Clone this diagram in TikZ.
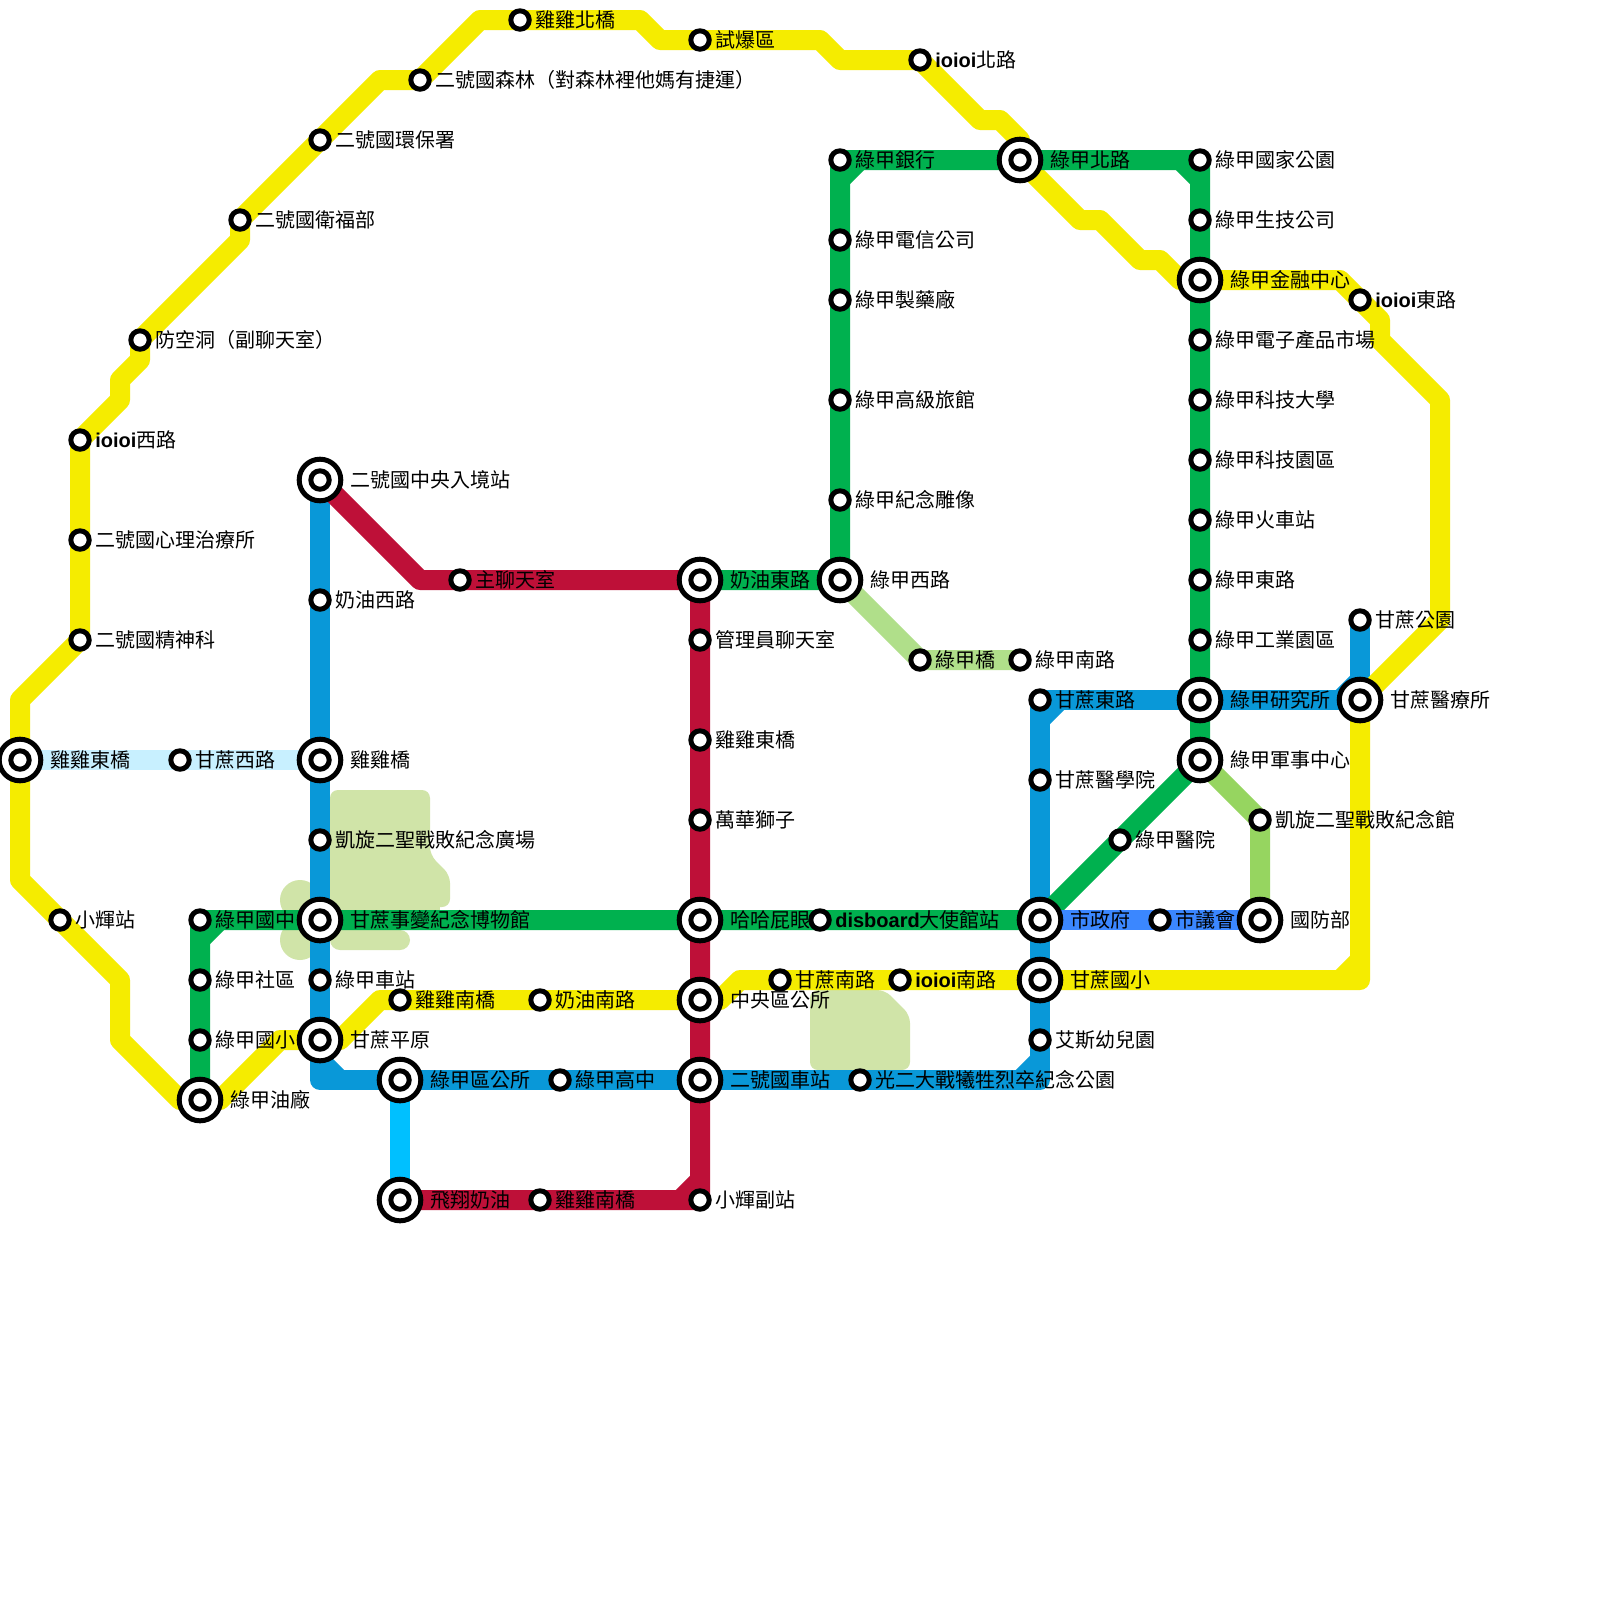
\documentclass[tikz,border=0pt]{standalone}
\usepackage{fontspec}
\setmainfont{Noto Sans CJK TC}
\newfontfamily\latb{Liberation Sans}
\newcommand{\ioi}{{\latb\bfseries ioioi}}
\pgfdeclarelayer{parks}
\pgfdeclarelayer{lines}
\pgfsetlayers{parks,lines,main}
\definecolor{cYel}{HTML}{F5EC00}
\definecolor{cBlu}{HTML}{0998D8}
\definecolor{cGrn}{HTML}{00B14F}
\definecolor{cRed}{HTML}{BE1038}
\definecolor{cCya}{HTML}{00C0FF}
\definecolor{cPal}{HTML}{C8F0FF}
\definecolor{cLgr}{HTML}{B0DF8A}
\definecolor{cMgr}{HTML}{96D560}
\definecolor{cBl2}{HTML}{3B87FF}
\definecolor{cPrk}{HTML}{D0E4A8}
\tikzset{
  x=0.5cm,y=-0.5cm,
  stn/.style={circle,draw=black,fill=white,line width=0.125cm,minimum size=0.46cm,inner sep=0pt},
  hubn/.style={circle,draw=black,fill=white,line width=0.125cm,minimum size=1.04cm,inner sep=0pt,
    path picture={\draw[black,line width=0.125cm,fill=white] (path picture bounding box.center) circle (0.23cm);}},
  lab/.style={anchor=west,inner sep=0pt,font=\fontsize{14.23}{17}\selectfont,text=black},
  mline/.style={line width=0.5cm,line join=round,line cap=round},
  chamfer/.style={line width=0.5cm,line cap=butt},
  park/.style={fill=cPrk,rounded corners=0.2cm}
}
\newcommand{\Stn}[4]{\node[stn] (#1) at (#2,#3) {}; \node[lab] (#1-t) at (#2+0.75,#3) {#4};}
\newcommand{\Hbn}[4]{\node[hubn] (#1) at (#2,#3) {}; \node[lab] (#1-t) at (#2+1.5,#3) {#4};}
\begin{document}
\begin{tikzpicture}
\useasboundingbox (0,0) rectangle (80,80);
% interchange stations
\Hbn{dq}{1}{38}{雞雞東橋}
\Hbn{rj}{16}{24}{二號國中央入境站}
\Hbn{jq}{16}{38}{雞雞橋}
\Hbn{sb}{16}{46}{甘蔗事變紀念博物館}
\Hbn{py}{16}{52}{甘蔗平原}
\Hbn{yc}{10}{55}{綠甲油廠}
\Hbn{qg}{20}{54}{綠甲區公所}
\Hbn{fx}{20}{60}{飛翔奶油}
\Hbn{nd}{35}{29}{奶油東路}
\Hbn{lx}{42}{29}{綠甲西路}
\Hbn{hh}{35}{46}{哈哈屁眼}
\Hbn{zy}{35}{50}{中央區公所}
\Hbn{cz}{35}{54}{二號國車站}
\Hbn{sz}{52}{46}{市政府}
\Hbn{gx}{52}{49}{甘蔗國小}
\Hbn{lb}{51}{8}{綠甲北路}
\Hbn{jr}{60}{14}{綠甲金融中心}
\Hbn{yj}{60}{35}{綠甲研究所}
\Hbn{js}{60}{38}{綠甲軍事中心}
\Hbn{yl}{68}{35}{甘蔗醫療所}
\Hbn{gf}{63}{46}{國防部}
% ordinary stations
\Stn{xh}{3}{46}{小輝站}
\Stn{iw}{4}{22}{\ioi 西路}
\Stn{xl}{4}{27}{二號國心理治療所}
\Stn{jj}{4}{32}{二號國精神科}
\Stn{fk}{7}{17}{防空洞（副聊天室）}
\Stn{wf}{12}{11}{二號國衛福部}
\Stn{hb}{16}{7}{二號國環保署}
\Stn{sl}{21}{4}{二號國森林（對森林裡他媽有捷運）}
\Stn{nb}{26}{1}{雞雞北橋}
\Stn{sq}{35}{2}{試爆區}
\Stn{in}{46}{3}{\ioi 北路}
\Stn{ie}{68}{15}{\ioi 東路}
\Stn{gw}{9}{38}{甘蔗西路}
\Stn{nx}{16}{30}{奶油西路}
\Stn{kg}{16}{42}{凱旋二聖戰敗紀念廣場}
\Stn{cs}{16}{49}{綠甲車站}
\Stn{lz}{10}{46}{綠甲國中}
\Stn{sq2}{10}{49}{綠甲社區}
\Stn{gu}{10}{52}{綠甲國小}
\Stn{jn}{20}{50}{雞雞南橋}
\Stn{nn}{27}{50}{奶油南路}
\Stn{gz}{28}{54}{綠甲高中}
\Stn{jn2}{27}{60}{雞雞南橋}
\Stn{zl}{23}{29}{主聊天室}
\Stn{gl}{35}{32}{管理員聊天室}
\Stn{je}{35}{37}{雞雞東橋}
\Stn{wh}{35}{41}{萬華獅子}
\Stn{fz}{35}{60}{小輝副站}
\Stn{ds}{41}{46}{{\latb\bfseries disboard}大使館站}
\Stn{gs}{39}{49}{甘蔗南路}
\Stn{is}{45}{49}{\ioi 南路}
\Stn{ge}{43}{54}{光二大戰犧牲烈卒紀念公園}
\Stn{yy}{52}{52}{艾斯幼兒園}
\Stn{yx}{52}{39}{甘蔗醫學院}
\Stn{gd}{52}{35}{甘蔗東路}
\Stn{lh}{42}{8}{綠甲銀行}
\Stn{dx}{42}{12}{綠甲電信公司}
\Stn{zy2}{42}{15}{綠甲製藥廠}
\Stn{gj}{42}{20}{綠甲高級旅館}
\Stn{dy}{42}{25}{綠甲紀念雕像}
\Stn{lq}{46}{33}{綠甲橋}
\Stn{ln}{51}{33}{綠甲南路}
\Stn{gy}{60}{8}{綠甲國家公園}
\Stn{sj}{60}{11}{綠甲生技公司}
\Stn{dz}{60}{17}{綠甲電子產品市場}
\Stn{kd}{60}{20}{綠甲科技大學}
\Stn{ky}{60}{23}{綠甲科技園區}
\Stn{hc}{60}{26}{綠甲火車站}
\Stn{dl}{60}{29}{綠甲東路}
\Stn{gy2}{60}{32}{綠甲工業園區}
\Stn{ly}{56}{42}{綠甲醫院}
\Stn{kj}{63}{41}{凱旋二聖戰敗紀念館}
\Stn{yh}{58}{46}{市議會}
\Stn{gp}{68}{31}{甘蔗公園}
% parks
\begin{pgfonlayer}{parks}
\fill[white] (0,0) rectangle (80,80);
\fill[park] (16.5,39.5) -- (21.5,39.5) -- (21.5,42.75) -- (22.5,43.75) -- (22.5,45.35) -- (16.5,45.35) -- cycle;
\fill[cPrk] (16.5,45) rectangle (22,46.5);
\fill[park,rounded corners=0.25cm] (16.5,46.5) rectangle (20.5,47.5);
\fill[cPrk] (15,45) circle (1);
\fill[cPrk] (15,47) circle (1);
\fill[park] (40.5,49.5) -- (44.25,49.5) -- (45.5,50.75) -- (45.5,53.5) -- (40.5,53.5) -- cycle;
\end{pgfonlayer}
% lines
\begin{pgfonlayer}{lines}
\draw[mline,cPal] (dq.center) -- (gw.center) -- (jq.center);
\draw[mline,cCya] (qg.center) -- (fx.center);
\draw[mline,cBlu] (rj.center) -- (nx.center) -- (jq.center) -- (kg.center) -- (sb.center) -- (cs.center) -- (py.center) -- (16,54) -- (qg.center) -- (gz.center) -- (cz.center) -- (ge.center) -- (52,54) -- (yy.center) -- (gx.center) -- (sz.center) -- (yx.center) -- (gd.center) -- (yj.center) -- (yl.center) -- (gp.center);
\draw[chamfer,cBlu] (16,53) -- (17,54);
\draw[chamfer,cBlu] (51,54) -- (52,53);
\draw[chamfer,cBlu] (52,36) -- (53,35);
\draw[chamfer,cBlu] (67,35) -- (68,34);
\draw[mline,cYel] (yc.center) -- (9,55) -- (6,52) -- (6,49) -- (xh.center) -- (1,44) -- (dq.center) -- (1,35) -- (jj.center) -- (xl.center) -- (iw.center) -- (6,20) -- (6,19) -- (7,18) -- (fk.center) -- (12,12) -- (wf.center) -- (hb.center) -- (19,4) -- (sl.center) -- (24,1) -- (nb.center) -- (32,1) -- (33,2) -- (sq.center) -- (41,2) -- (42,3) -- (in.center) -- (49,6) -- (50,6) -- (51,7) -- (lb.center) -- (54,11) -- (55,11) -- (57,13) -- (58,13) -- (59,14) -- (jr.center) -- (67,14) -- (ie.center) -- (69,16) -- (69,17) -- (72,20) -- (72,31) -- (yl.center) -- (68,49) -- (gx.center) -- (is.center) -- (gs.center) -- (37,49) -- (36,50) -- (zy.center) -- (nn.center) -- (jn.center) -- (19,50) -- (17,52) -- (py.center) -- (14,52) -- (11,55) -- (yc.center);
\draw[chamfer,cYel] (67,49) -- (68,48);
\draw[mline,cRed] (rj.center) -- (21,29) -- (zl.center) -- (nd.center) -- (gl.center) -- (je.center) -- (wh.center) -- (hh.center) -- (zy.center) -- (cz.center) -- (fz.center) -- (jn2.center) -- (fx.center);
\draw[chamfer,cRed] (34,60) -- (35,59);
\draw[mline,cGrn] (nd.center) -- (lx.center) -- (dy.center) -- (gj.center) -- (zy2.center) -- (dx.center) -- (lh.center) -- (lb.center) -- (gy.center) -- (sj.center) -- (jr.center) -- (dz.center) -- (kd.center) -- (ky.center) -- (hc.center) -- (dl.center) -- (gy2.center) -- (yj.center) -- (js.center) -- (ly.center) -- (sz.center) -- (ds.center) -- (hh.center) -- (sb.center) -- (lz.center) -- (sq2.center) -- (gu.center) -- (yc.center);
\draw[chamfer,cGrn] (42,9) -- (43,8);
\draw[chamfer,cGrn] (59,8) -- (60,9);
\draw[chamfer,cGrn] (10,47) -- (11,46);
\draw[mline,cLgr] (lx.center) -- (lq.center) -- (ln.center);
\draw[mline,cMgr] (js.center) -- (kj.center) -- (gf.center);
\draw[mline,cBl2] (sz.center) -- (yh.center) -- (gf.center);
\end{pgfonlayer}
\end{tikzpicture}
\end{document}
